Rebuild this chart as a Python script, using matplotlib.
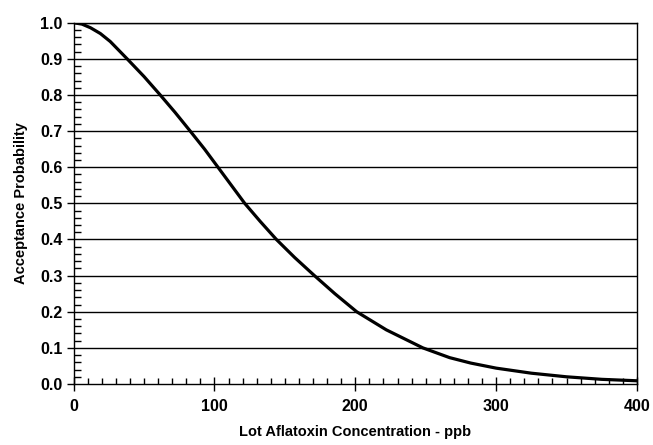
import matplotlib
matplotlib.use("Agg")
import matplotlib.pyplot as plt
from matplotlib.ticker import MultipleLocator

conc = [0, 6, 12, 19, 26, 38, 50, 61.5, 72, 82.8, 93, 102.5, 112, 121.5, 132.5, 144, 157, 171,
        185.5, 201, 222, 248, 267, 282, 300, 325, 350, 375, 400]
prob = [1.00, 0.996, 0.986, 0.970, 0.948, 0.90, 0.851, 0.80, 0.752, 0.70, 0.65, 0.60, 0.55,
        0.50, 0.45, 0.40, 0.35, 0.30, 0.25, 0.20, 0.15, 0.10, 0.073, 0.058, 0.044, 0.03, 0.02,
        0.013, 0.009]
xticks = [0, 100, 200, 300, 400]
yticks = [0.0, 0.1, 0.2, 0.3, 0.4, 0.5, 0.6, 0.7, 0.8, 0.9, 1.0]

plt.rcParams['font.family'] = ['Liberation Sans', 'DejaVu Sans']
fig = plt.figure(figsize=(6.53, 4.45), dpi=100)
ax = fig.add_axes([0.1127, 0.137, 0.8628, 0.812])

for y in yticks[1:]:
    ax.axhline(y, color='black', lw=1.0, zorder=1)

ax.plot(conc, prob, color='black', lw=2.3, zorder=3, solid_joinstyle='round')

ax.set_xlim(0, 400)
ax.set_ylim(0, 1.0)
ax.set_xticks(xticks)
ax.set_yticks(yticks)
ax.set_xticklabels([str(v) for v in xticks], fontsize=11.5, fontweight='bold')
ax.set_yticklabels([f"{v:.1f}" for v in yticks], fontsize=11.5, fontweight='bold')
ax.xaxis.set_minor_locator(MultipleLocator(10))
ax.yaxis.set_minor_locator(MultipleLocator(0.02))
ax.tick_params(axis='x', which='major', direction='inout', length=10, width=1.0, pad=6)
ax.tick_params(axis='x', which='minor', direction='in', length=4, width=1.0)
ax.tick_params(axis='y', which='major', direction='out', length=5, width=1.0, pad=3)
ax.tick_params(axis='y', which='minor', direction='in', length=5, width=1.0)

for s in ax.spines.values():
    s.set_linewidth(1.0)
    s.set_color('black')

ax.set_xlabel('Lot Aflatoxin Concentration - ppb', fontsize=10.5, fontweight='bold', labelpad=8)
ax.set_ylabel('Acceptance Probability', fontsize=10.5, fontweight='bold', labelpad=9)

fig.savefig('out.png', dpi=100)
